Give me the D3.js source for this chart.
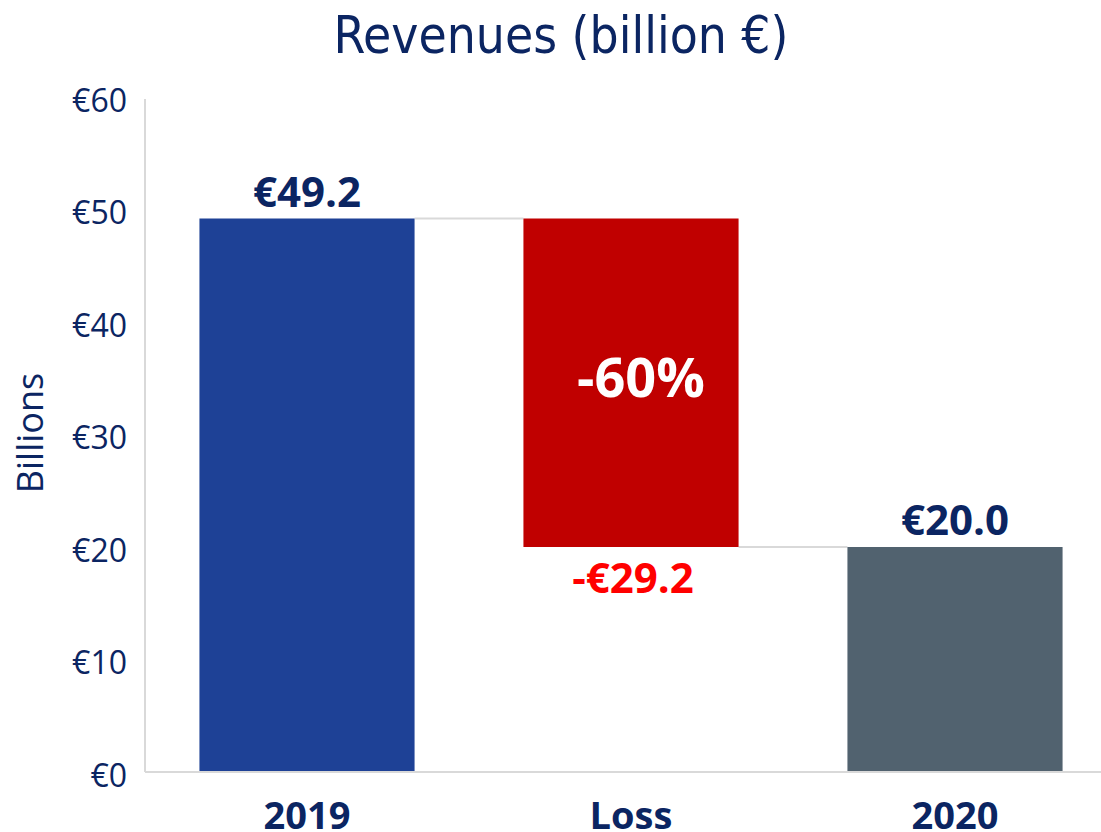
<!DOCTYPE html>
<html>
<head>
<meta charset="utf-8">
<script src="https://cdn.jsdelivr.net/npm/d3@7"></script>
<style>
  body { margin: 0; background: #fff; }
  .tick-label { font-family: "Open Sans", sans-serif; font-size: 32px; fill: #0b2562; }
  .cat-label { font-family: "Open Sans", sans-serif; font-weight: 700; font-size: 38px; fill: #0b2562; }
  .value-label { font-family: "Open Sans", sans-serif; font-weight: 700; font-size: 42px; }
</style>
</head>
<body>
<div id="chart"></div>
<script>

// Chart data
const categories = ['2019', 'Loss', '2020'];
const values = [49.2, -29.2, 20.0];
const kinds = ['total', 'delta', 'total'];
const valueLabels = ['€49.2', '-€29.2', '€20.0'];
const yTicks = [0, 10, 20, 30, 40, 50, 60];
const pctLabel = '-60%';

const width = 1101;
const height = 832;
const margin = { top: 99, right: 0, bottom: 60, left: 145 };

const navy = '#0b2562';
const colors = { '2019': '#1e4196', 'Loss': '#c00000', '2020': '#51626f' };

// Build waterfall segments
let running = 0;
const segments = categories.map((c, i) => {
  let lo, hi;
  if (kinds[i] === 'total') {
    lo = 0; hi = values[i];
    running = values[i];
  } else {
    const next = running + values[i];
    lo = Math.min(running, next); hi = Math.max(running, next);
    running = next;
  }
  return { cat: c, lo: lo, hi: hi, value: values[i], label: valueLabels[i], kind: kinds[i] };
});

const svg = d3.select('#chart')
  .append('svg')
  .attr('width', width)
  .attr('height', height);

const x = d3.scaleBand()
  .domain(categories)
  .range([margin.left, 1117])
  .paddingInner(0.336)
  .paddingOuter(0.168);

const y = d3.scaleLinear()
  .domain([0, 60])
  .range([height - margin.bottom, 97]);

// Title
svg.append('text')
  .attr('x', 561)
  .attr('y', 53)
  .attr('text-anchor', 'middle')
  .style('font-family', '"DejaVu Sans Condensed", "DejaVu Sans", sans-serif')
  .style('font-size', '51px')
  .style('fill', navy)
  .text('Revenues (billion €)');

// Y axis title
svg.append('text')
  .attr('transform', `translate(43, 433) rotate(-90)`)
  .attr('text-anchor', 'middle')
  .style('font-family', '"Open Sans", sans-serif')
  .style('font-size', '36px')
  .style('fill', navy)
  .text('Billions');

// Y axis line
svg.append('line')
  .attr('x1', margin.left).attr('x2', margin.left)
  .attr('y1', y(60) + 2).attr('y2', y(0))
  .attr('stroke', '#d9d9d9')
  .attr('stroke-width', 2);

// Y tick labels
svg.selectAll('.tick-label')
  .data(yTicks)
  .join('text')
  .attr('class', 'tick-label')
  .attr('x', 127)
  .attr('y', d => y(d))
  .attr('dy', '0.46em')
  .attr('text-anchor', 'end')
  .text(d => '€' + d);

// Connector lines between bars
for (let i = 0; i < segments.length - 1; i++) {
  const level = segments[i].kind === 'total' ? segments[i].hi : segments[i].lo;
  svg.append('line')
    .attr('x1', x(categories[i]) + x.bandwidth())
    .attr('x2', x(categories[i + 1]))
    .attr('y1', y(level)).attr('y2', y(level))
    .attr('stroke', '#d9d9d9')
    .attr('stroke-width', 2);
}

// Bars
svg.selectAll('.bar')
  .data(segments)
  .join('rect')
  .attr('class', 'bar')
  .attr('x', d => x(d.cat))
  .attr('width', x.bandwidth())
  .attr('y', d => y(d.hi))
  .attr('height', d => y(d.lo) - y(d.hi))
  .attr('fill', d => colors[d.cat]);

// Baseline
svg.append('line')
  .attr('x1', margin.left).attr('x2', width)
  .attr('y1', y(0)).attr('y2', y(0))
  .attr('stroke', '#d9d9d9')
  .attr('stroke-width', 2);

// Value labels
svg.selectAll('.value-label')
  .data(segments)
  .join('text')
  .attr('class', 'value-label')
  .attr('x', d => x(d.cat) + x.bandwidth() / 2 + (d.kind === 'delta' ? 2 : 0))
  .attr('y', d => d.kind === 'delta' ? y(d.lo) + 46 : y(d.hi) - 12)
  .attr('text-anchor', 'middle')
  .style('fill', d => d.kind === 'delta' ? '#ff0000' : navy)
  .text(d => d.label);

// Percent label inside the loss bar
const loss = segments[1];
svg.append('text')
  .attr('x', x(loss.cat) + x.bandwidth() / 2 + 10)
  .attr('y', y((loss.lo + loss.hi) / 2) + 14)
  .attr('text-anchor', 'middle')
  .style('font-family', '"Open Sans", sans-serif')
  .style('font-weight', 700)
  .style('font-size', '54px')
  .style('fill', '#fff')
  .text(pctLabel);

// Category labels
svg.selectAll('.cat-label')
  .data(categories)
  .join('text')
  .attr('class', 'cat-label')
  .attr('x', d => x(d) + x.bandwidth() / 2)
  .attr('y', 829)
  .attr('text-anchor', 'middle')
  .text(d => d);

</script>
</body>
</html>
